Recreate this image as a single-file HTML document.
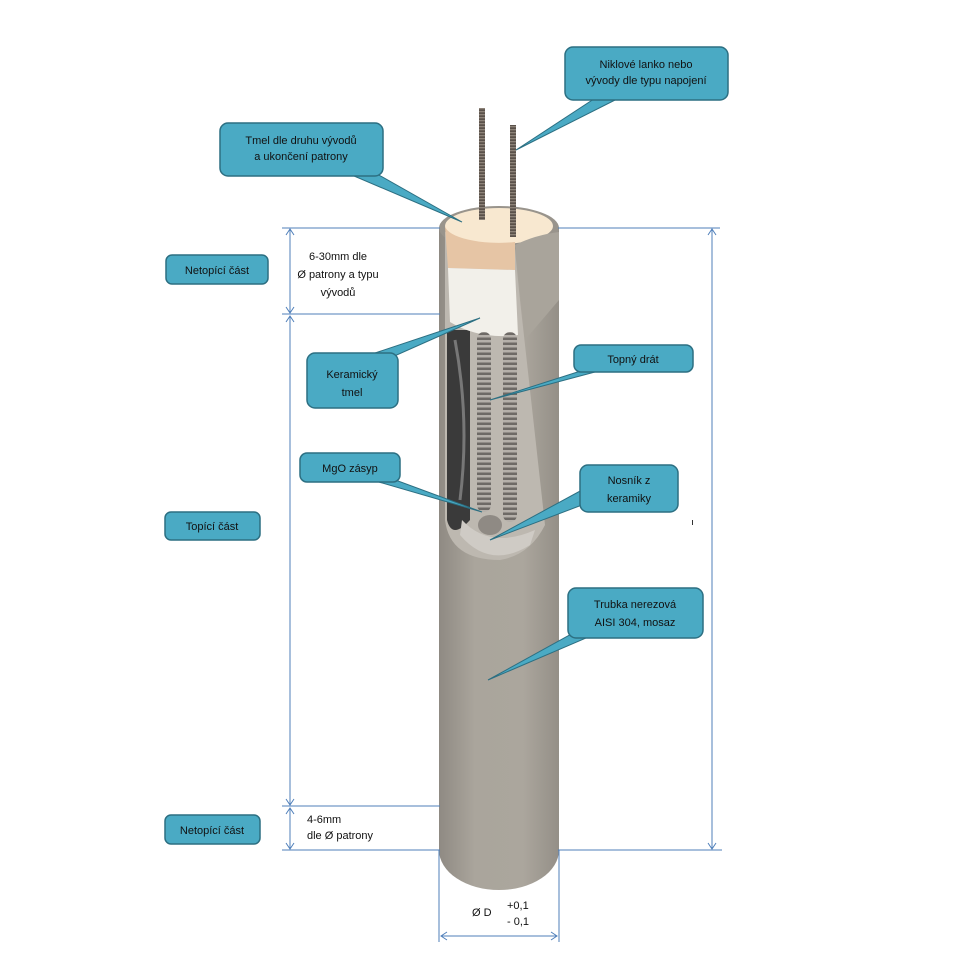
<!DOCTYPE html>
<html><head><meta charset="utf-8"><style>
html,body{margin:0;padding:0;background:#fff;}
svg{display:block;}
text{font-family:"Liberation Sans",sans-serif;font-size:11px;fill:#111;}
.b{fill:#4aaac4;stroke:#2c6f82;stroke-width:1.5;}
.p{fill:#4aaac4;stroke:#2c6f82;stroke-width:1;}
.d{stroke:#4f7fba;stroke-width:1;fill:none;}
</style></head><body>
<svg width="967" height="967" viewBox="0 0 967 967" xmlns="http://www.w3.org/2000/svg">
<defs>
<linearGradient id="tube" x1="0" x2="1" y1="0" y2="0">
<stop offset="0" stop-color="#8f8a83"/><stop offset="0.3" stop-color="#aaa59c"/><stop offset="0.7" stop-color="#aba69d"/><stop offset="1" stop-color="#948f87"/>
</linearGradient>
<pattern id="coil" width="12" height="5" patternUnits="userSpaceOnUse">
<rect width="12" height="5" fill="#6e6a66"/><rect y="0" width="12" height="2.5" fill="#b5b0aa"/>
</pattern>
<pattern id="wire" width="5" height="3" patternUnits="userSpaceOnUse">
<rect width="5" height="3" fill="#5a514a"/><rect width="5" height="1.3" fill="#8d8379"/>
</pattern>
</defs>

<path d="M439,228 L439,850 A60,40 0 0 0 559,850 L559,228 Z" fill="url(#tube)"/>
<ellipse cx="499" cy="228" rx="60" ry="22" fill="#99948c"/>
<path d="M445,232 L445,520 Q450,560 500,560 Q530,555 545,525 L520,300 L515,250 Z" fill="#bdb8b0"/>
<path d="M447,330 L447,520 Q452,540 470,520 L470,330 Z" fill="#3a3a3a"/>
<path d="M455,340 Q470,420 460,500" stroke="#777" stroke-width="3" fill="none"/>
<ellipse cx="499" cy="226" rx="54" ry="18" fill="#f8e8d0"/>
<path d="M445,226 A54,18 0 0 0 515,242 L515,270 L448,268 Z" fill="#e6c5a5"/>
<path d="M448,268 L515,270 L518,335 Q480,340 450,322 Z" fill="#f2f0ea"/>
<path d="M515,245 Q535,235 559,232 L559,300 L525,340 Z" fill="#a9a49b"/>
<rect x="477" y="332" width="14" height="180" rx="7" fill="url(#coil)"/>
<rect x="503" y="332" width="14" height="190" rx="7" fill="url(#coil)"/>
<ellipse cx="490" cy="525" rx="12" ry="10" fill="#8f8a84"/>
<path d="M460,535 Q490,570 530,545 L535,530 Q490,550 462,520 Z" fill="#cfcbc5"/>
<rect x="479" y="108" width="6" height="112" fill="url(#wire)"/>
<rect x="510" y="125" width="6" height="112" fill="url(#wire)"/>

<g class="d">
<line x1="282" y1="228" x2="440" y2="228"/><line x1="558" y1="228" x2="720" y2="228"/>
<line x1="282" y1="314" x2="440" y2="314"/>
<line x1="282" y1="806" x2="440" y2="806"/>
<line x1="282" y1="850" x2="440" y2="850"/><line x1="558" y1="850" x2="722" y2="850"/>
<line x1="290" y1="229" x2="290" y2="313"/>
<line x1="290" y1="316" x2="290" y2="805"/>
<line x1="290" y1="808" x2="290" y2="849"/>
<line x1="712" y1="229" x2="712" y2="849"/>
<line x1="439" y1="850" x2="439" y2="942"/><line x1="559" y1="850" x2="559" y2="942"/>
<line x1="441" y1="936" x2="557" y2="936"/>
<path d="M286,235 L290,229 L294,235 M286,307 L290,313 L294,307 M286,322 L290,316 L294,322 M286,799 L290,805 L294,799 M286,814 L290,808 L294,814 M286,843 L290,849 L294,843 M708,235 L712,229 L716,235 M708,843 L712,849 L716,843 M447,932 L441,936 L447,940 M551,932 L557,936 L551,940"/>
</g>

<g>
<polygon class="p" points="600,95 625,95 516,150"/>
<rect class="b" x="565" y="47" width="163" height="53" rx="8"/>
<text x="646" y="68" text-anchor="middle">Niklové lanko nebo</text>
<text x="646" y="84" text-anchor="middle">vývody dle typu napojení</text>

<polygon class="p" points="340,170 370,170 462,222"/>
<rect class="b" x="220" y="123" width="163" height="53" rx="8"/>
<text x="301" y="144" text-anchor="middle">Tmel dle druhu vývodů</text>
<text x="301" y="160" text-anchor="middle">a ukončení patrony</text>

<polygon class="p" points="360,358 390,358 480,318"/>
<rect class="b" x="307" y="353" width="91" height="55" rx="8"/>
<text x="352" y="378" text-anchor="middle">Keramický</text>
<text x="352" y="396" text-anchor="middle">tmel</text>

<polygon class="p" points="590,368 610,368 490,400"/>
<rect class="b" x="574" y="345" width="119" height="27" rx="7"/>
<text x="633" y="363" text-anchor="middle">Topný drát</text>

<polygon class="p" points="365,478 390,478 482,512"/>
<rect class="b" x="300" y="453" width="100" height="29" rx="7"/>
<text x="350" y="472" text-anchor="middle">MgO zásyp</text>

<polygon class="p" points="582,490 582,505 490,540"/>
<rect class="b" x="580" y="465" width="98" height="47" rx="8"/>
<text x="629" y="484" text-anchor="middle">Nosník z</text>
<text x="629" y="502" text-anchor="middle">keramiky</text>

<polygon class="p" points="575,632 600,632 488,680"/>
<rect class="b" x="568" y="588" width="135" height="50" rx="8"/>
<text x="635" y="608" text-anchor="middle">Trubka nerezová</text>
<text x="635" y="626" text-anchor="middle">AISI 304, mosaz</text>

<rect class="b" x="166" y="255" width="102" height="29" rx="6"/>
<text x="217" y="274" text-anchor="middle">Netopící část</text>
<rect class="b" x="165" y="512" width="95" height="28" rx="6"/>
<text x="212" y="530" text-anchor="middle">Topící část</text>
<rect class="b" x="165" y="815" width="95" height="29" rx="6"/>
<text x="212" y="834" text-anchor="middle">Netopící část</text>
</g>

<text x="338" y="260" text-anchor="middle">6-30mm dle</text>
<text x="338" y="278" text-anchor="middle">Ø patrony a typu</text>
<text x="338" y="296" text-anchor="middle">vývodů</text>
<text x="307" y="823">4-6mm</text>
<text x="307" y="839">dle Ø  patrony</text>
<text x="472" y="916">Ø D</text>
<text x="507" y="909">+0,1</text>
<text x="507" y="925">- 0,1</text>
<rect x="692" y="520" width="1" height="5" fill="#333"/>
</svg>
</body></html>
